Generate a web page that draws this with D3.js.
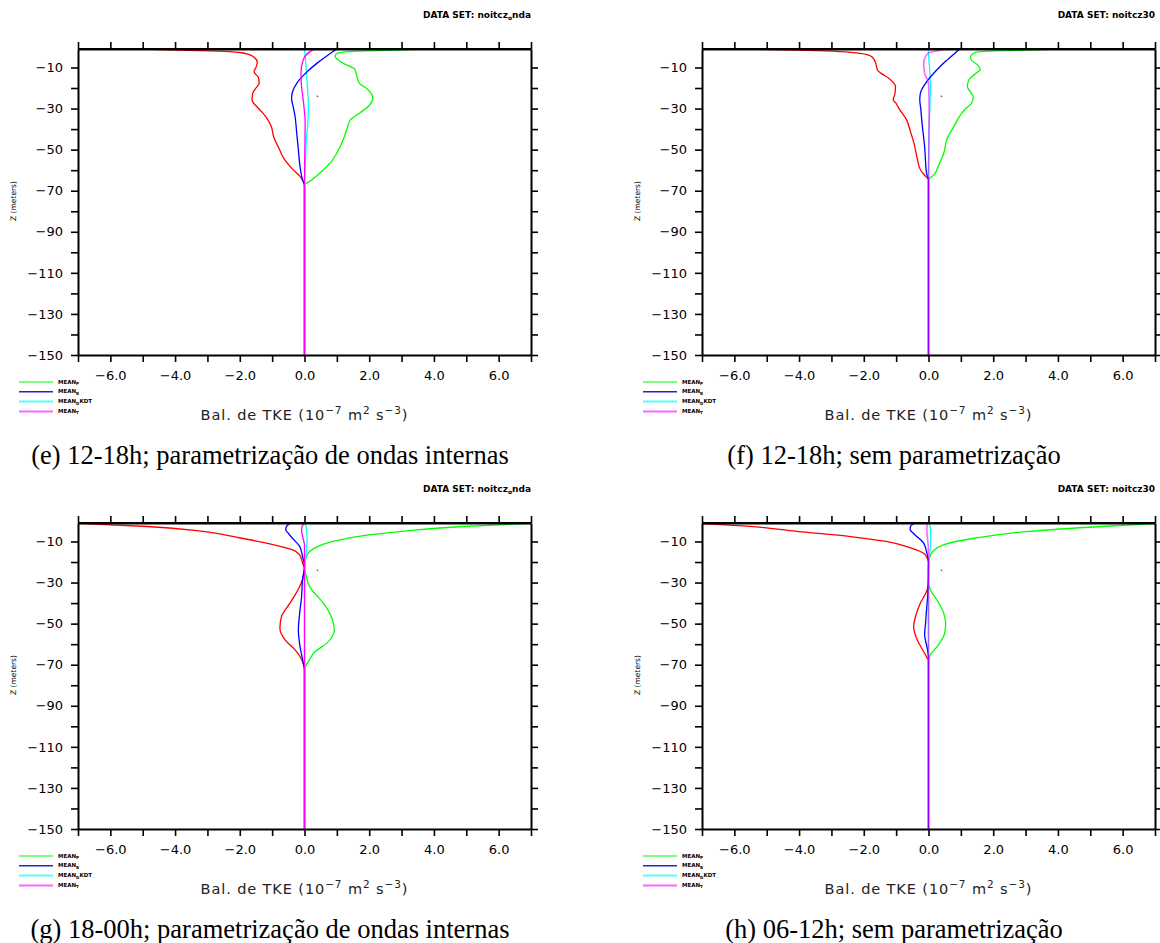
<!DOCTYPE html>
<html>
<head>
<meta charset="utf-8">
<script src="https://cdn.jsdelivr.net/npm/d3@7"></script>
<style>
  body { margin: 0; background: #fff; }
  svg { display: block; }
</style>
</head>
<body>
<svg id="chart" width="1160" height="943"></svg>
<script>
// Profiles of the TKE balance terms as [depth (m), value (1e-7 m2 s-3)].
// Below the mixed layer every term is zero down to -150 m.

// (e) 12-18h, internal wave parameterization
const eRed = [[-1,-4.9],[-1.4,-4.2],[-1.9,-2.9],[-2.7,-2.0],[-4.5,-1.6],[-7.5,-1.46],[-10,-1.5],[-12,-1.56],[-15,-1.42],[-17.5,-1.4],[-20,-1.5],[-22.5,-1.6],[-26,-1.62],[-29,-1.48],[-32,-1.3],[-35,-1.15],[-39,-1.02],[-44,-0.95],[-49,-0.8],[-54,-0.65],[-59,-0.4],[-63,-0.14],[-67.5,0],[-150,0]];
const eGreen = [[-1,3.6],[-1.4,3.0],[-1.9,2.0],[-2.5,1.2],[-3.5,0.97],[-4.8,0.95],[-6.5,1.05],[-8,1.2],[-11,1.56],[-14.4,1.62],[-17.7,1.7],[-20,1.9],[-22,2.03],[-24.5,2.11],[-27,2.07],[-28.5,2.0],[-32,1.72],[-35.5,1.42],[-40,1.31],[-45,1.2],[-51.7,1.0],[-56.6,0.79],[-60.7,0.53],[-64.8,0.22],[-67.5,0],[-150,0]];
const eBlue = [[-1,1.0],[-4,0.72],[-8,0.38],[-13,0.02],[-17.7,-0.24],[-21.8,-0.37],[-25,-0.4],[-29,-0.35],[-34,-0.29],[-42,-0.24],[-50,-0.19],[-58,-0.14],[-64.7,-0.06],[-67.5,0],[-150,0]];
const eCyan = [[-1,0.0],[-10,0.05],[-20,0.09],[-29,0.12],[-38,0.1],[-45,0.06],[-55,0.03],[-65,0],[-150,0]];
const eMagenta = [[-1,0.33],[-2.5,0.15],[-6.3,-0.04],[-12.9,-0.11],[-19.4,-0.09],[-25.9,-0.04],[-37,0.02],[-50,0.01],[-67.5,0],[-150,0]];

// (f) 12-18h, no parameterization
const fRed = [[-1,-5.5],[-1.4,-4.5],[-1.9,-3.2],[-2.8,-2.3],[-4.3,-1.8],[-6.4,-1.67],[-8,-1.63],[-11.5,-1.57],[-13,-1.45],[-15.2,-1.23],[-17.5,-1.08],[-19.3,-1.02],[-23,-1.04],[-25.7,-1.09],[-27.5,-1.0],[-29.8,-0.92],[-35.4,-0.68],[-41.1,-0.56],[-46.8,-0.45],[-54.1,-0.35],[-59.8,-0.25],[-63,-0.09],[-64.7,0],[-150,0]];
const fGreen = [[-1,4.0],[-1.4,3.3],[-1.9,2.1],[-2.6,1.45],[-3.5,1.36],[-4.5,1.3],[-6.3,1.32],[-8.5,1.5],[-11,1.6],[-13,1.45],[-16,1.25],[-19.3,1.2],[-22,1.3],[-24.2,1.38],[-27.4,1.33],[-30,1.15],[-33.1,0.99],[-38.8,0.78],[-44.5,0.58],[-51.8,0.47],[-57.5,0.32],[-62.4,0.16],[-64.7,0],[-150,0]];
const fBlue = [[-1,0.97],[-3.5,0.78],[-6.3,0.58],[-9.5,0.36],[-12.8,0.16],[-17.7,-0.09],[-22.5,-0.25],[-25.7,-0.27],[-30,-0.24],[-37,-0.2],[-48.5,-0.12],[-61.5,-0.06],[-64.7,0],[-150,0]];
const fCyan = [[-1,-0.01],[-10,0.03],[-19,0.06],[-30,0.04],[-45,0.01],[-64.7,0],[-150,0]];
const fMagenta = [[-1,0.53],[-1.8,0.3],[-2.9,0.01],[-5,-0.1],[-7.9,-0.15],[-12.9,-0.12],[-17.7,0],[-30,0.02],[-64.7,0],[-150,0]];

// (g) 18-00h, internal wave parameterization
const gRed = [[-1,-7.3],[-2.7,-4.85],[-5.1,-3.13],[-8.3,-1.98],[-11.6,-0.95],[-14,-0.38],[-16.5,-0.15],[-20.5,-0.06],[-23.5,0],[-28,-0.05],[-33.5,-0.2],[-37,-0.33],[-40,-0.45],[-46.5,-0.71],[-52.2,-0.76],[-57.9,-0.6],[-62.8,-0.29],[-66,-0.14],[-69,-0.05],[-72.5,0],[-150,0]];
const gGreen = [[-1,7.3],[-2.7,4.89],[-4.8,3.17],[-6.7,2.03],[-10,0.88],[-13.2,0.31],[-16.5,0.08],[-20,0.02],[-23,0],[-27,0.06],[-30,0.1],[-33.5,0.22],[-37,0.42],[-40,0.58],[-45,0.78],[-49.8,0.89],[-53,0.92],[-56.5,0.85],[-59.5,0.69],[-63.6,0.33],[-68.5,0.12],[-72.5,0],[-150,0]];
const gBlue = [[-1,-0.42],[-2.5,-0.55],[-4.3,-0.58],[-6,-0.5],[-8.3,-0.38],[-12.4,-0.15],[-17.3,-0.06],[-22,0],[-28.4,-0.06],[-36.8,-0.09],[-46.5,-0.16],[-53,-0.19],[-61,-0.14],[-69,-0.04],[-72.5,0],[-150,0]];
const gCyan = [[-1,0.0],[-3,0.05],[-8,0.08],[-14,0.06],[-20,0.02],[-25,0],[-150,0]];
const gMagenta = [[-1,0.0],[-2.5,-0.07],[-4.5,-0.09],[-8,-0.05],[-12,0],[-150,0]];

// (h) 06-12h, no parameterization
const hRed = [[-1,-7.3],[-2.4,-5.73],[-5.1,-4.07],[-7.6,-2.41],[-10,-1.31],[-13.2,-0.54],[-15.7,-0.15],[-18.1,-0.04],[-20,0],[-30,0],[-33.5,-0.04],[-40,-0.25],[-46.5,-0.4],[-51.4,-0.46],[-57.9,-0.35],[-63.6,-0.15],[-66.8,-0.04],[-68,0],[-150,0]];
const hGreen = [[-1,7.3],[-2.7,5.33],[-5.1,3.11],[-8.3,1.46],[-11.6,0.46],[-14.9,0.13],[-18,0.03],[-20,0],[-30,0],[-33.5,0.06],[-40,0.32],[-45,0.47],[-49.8,0.53],[-54.6,0.5],[-61.1,0.27],[-65.1,0.06],[-68,0],[-150,0]];
const hBlue = [[-1,-0.42],[-2.5,-0.55],[-4,-0.57],[-6.7,-0.42],[-10.8,-0.15],[-15.7,-0.05],[-20,0],[-35,-0.02],[-45,-0.07],[-49.8,-0.09],[-55,-0.12],[-62.8,-0.03],[-67,0],[-150,0]];
const hCyan = [[-1,0.02],[-5,0.07],[-12,0.06],[-18,0.02],[-22,0],[-150,0]];
const hMagenta = [[-1,-0.04],[-4,-0.05],[-10,-0.02],[-15,0],[-150,0]];

// stray marker near the surface, same in every panel
const stray = [[-24, 0.4]];

// axes
const X_DOMAIN = [-7, 7];
const Z_DOMAIN = [-150, -1];
const xTicks = d3.range(-7, 8, 1);
const zTicks = d3.range(-10, -151, -10);

// legend (red term has no entry in the original)
const legendNames = [['MEAN', 'P', ''], ['MEAN', 'B', ''], ['MEAN', 'D', 'KDT'], ['MEAN', 'T', '']];

const captions = [
  '(e) 12-18h; parametrização de ondas internas',
  '(f) 12-18h; sem parametrização',
  '(g) 18-00h; parametrização de ondas internas',
  '(h) 06-12h; sem parametrização',
];

// layout
const PW = 453, PH = 306;
const panels = [
  { ox: 78,  oy: 49,  curves: { red: eRed, green: eGreen, blue: eBlue, cyan: eCyan, magenta: eMagenta }, dataset: ['noitcz', 'o', 'nda'], caption: captions[0], mix: false },
  { ox: 702, oy: 49,  curves: { red: fRed, green: fGreen, blue: fBlue, cyan: fCyan, magenta: fMagenta }, dataset: ['noitcz30', '', ''], caption: captions[1], mix: true },
  { ox: 78,  oy: 523, curves: { red: gRed, green: gGreen, blue: gBlue, cyan: gCyan, magenta: gMagenta }, dataset: ['noitcz', 'o', 'nda'], caption: captions[2], mix: false },
  { ox: 702, oy: 523, curves: { red: hRed, green: hGreen, blue: hBlue, cyan: hCyan, magenta: hMagenta }, dataset: ['noitcz30', '', ''], caption: captions[3], mix: true },
];
// draw order: cyan under blue so the zero line mixes blue + magenta where they overlap
const drawOrder = ['red', 'green', 'cyan', 'blue', 'magenta'];
const curveColors = { red: '#ff0000', green: '#00ff00', blue: '#0000ff', cyan: '#00ffff', magenta: '#ff00ff' };
const legendColors = ['#55ff55', '#2323d8', '#55ffff', '#ff66ff'];

const svg = d3.select('#chart');
const FONT = '"DejaVu Sans", sans-serif';

panels.forEach((p, i) => {
  const x = d3.scaleLinear().domain(X_DOMAIN).range([0, PW]);
  const y = d3.scaleLinear().domain(Z_DOMAIN).range([PH, 0]);
  const g = svg.append('g').attr('transform', `translate(${p.ox},${p.oy})`);

  svg.append('clipPath').attr('id', `clip${i}`)
    .append('rect').attr('width', PW).attr('height', PH);

  const line = d3.line()
    .x((d) => x(d[1]))
    .y((d) => y(d[0]))
    .curve(d3.curveMonotoneY);

  const plot = g.append('g').attr('clip-path', `url(#clip${i})`);
  drawOrder.forEach((key) => {
    const mixed = p.mix && key === 'magenta';
    plot.append('path')
      .datum(p.curves[key])
      .attr('d', line)
      .attr('fill', 'none')
      .attr('stroke', curveColors[key])
      .attr('stroke-width', mixed ? 1.6 : 1.3)
      .attr('stroke-opacity', mixed ? 0.6 : 1);
  });
  plot.selectAll('.stray')
    .data(stray)
    .enter()
    .append('circle')
    .attr('cx', (d) => x(d[1]))
    .attr('cy', (d) => y(d[0]))
    .attr('r', 0.8)
    .attr('fill', '#444');

  // frame + axes
  const styleAxis = (sel) => {
    sel.selectAll('.domain').attr('stroke', '#000').attr('stroke-width', 2);
    sel.selectAll('.tick line').attr('stroke', '#000').attr('stroke-width', 1.6);
    sel.selectAll('.tick text')
      .attr('font-family', FONT)
      .attr('font-size', 13)
      .attr('fill', '#000');
  };

  g.append('g')
    .call(d3.axisTop(x).tickValues(xTicks).tickSize(7).tickSizeOuter(0).tickFormat(''))
    .call(styleAxis);
  g.append('g')
    .attr('transform', `translate(0,${PH})`)
    .call(d3.axisBottom(x).tickValues(xTicks).tickSize(7).tickSizeOuter(0).tickPadding(9)
      .tickFormat((d) => (d % 2 === 0 ? d3.format('.1f')(d) : '')))
    .call(styleAxis);
  g.append('g')
    .call(d3.axisLeft(y).tickValues(zTicks).tickSize(7).tickSizeOuter(0).tickPadding(8)
      .tickFormat((d) => (d % 20 !== 0 ? d3.format('d')(d) : '')))
    .call(styleAxis);
  g.append('g')
    .attr('transform', `translate(${PW},0)`)
    .call(d3.axisRight(y).tickValues(zTicks).tickSize(7).tickSizeOuter(0).tickFormat(''))
    .call(styleAxis);
  // top border of frame
  g.append('line')
    .attr('x1', 0).attr('x2', PW).attr('y1', 0).attr('y2', 0)
    .attr('stroke', '#000').attr('stroke-width', 2);

  // DATA SET label
  const ds = svg.append('text')
    .attr('x', p.ox + PW)
    .attr('y', p.oy - 31)
    .attr('text-anchor', 'end')
    .attr('font-family', FONT)
    .attr('font-weight', 'bold')
    .attr('font-size', 9)
    .attr('fill', '#000');
  ds.append('tspan').text('DATA SET: ' + p.dataset[0]);
  if (p.dataset[1]) {
    ds.append('tspan').attr('dy', 2).attr('font-size', 6).text(p.dataset[1]);
    ds.append('tspan').attr('dy', -2).text(p.dataset[2]);
  }

  // x title
  const xt = svg.append('text')
    .attr('x', p.ox + PW / 2)
    .attr('y', p.oy + PH + 65)
    .attr('text-anchor', 'middle')
    .attr('font-family', FONT)
    .attr('font-size', 14.5)
    .attr('letter-spacing', 0.9)
    .attr('fill', '#222');
  xt.append('tspan').text('Bal. de TKE (10');
  xt.append('tspan').attr('dy', -6).attr('font-size', 10.5).text('−7');
  xt.append('tspan').attr('dy', 6).text(' m');
  xt.append('tspan').attr('dy', -6).attr('font-size', 10.5).text('2');
  xt.append('tspan').attr('dy', 6).text(' s');
  xt.append('tspan').attr('dy', -6).attr('font-size', 10.5).text('−3');
  xt.append('tspan').attr('dy', 6).text(')');

  // y title
  svg.append('text')
    .attr('transform', `translate(${p.ox - 62},${p.oy + 152}) rotate(-90)`)
    .attr('text-anchor', 'middle')
    .attr('font-family', FONT)
    .attr('font-size', 7.5)
    .attr('fill', '#000')
    .text('Z (meters)');

  // legend
  const lg = svg.append('g').attr('transform', `translate(${p.ox - 59},${p.oy + PH + 27})`);
  legendNames.forEach((n, k) => {
    const row = lg.append('g').attr('transform', `translate(0,${k * 9.8})`);
    row.append('line')
      .attr('x1', 0).attr('x2', 34)
      .attr('stroke', legendColors[k])
      .attr('stroke-width', k >= 2 ? 2 : 1.4);
    const t = row.append('text')
      .attr('x', 39).attr('y', 1.5)
      .attr('font-family', FONT)
      .attr('font-weight', 'bold')
      .attr('font-size', 5.5)
      .attr('fill', '#000');
    t.append('tspan').text(n[0]);
    t.append('tspan').attr('dy', 1.5).attr('font-size', 4).text(n[1]);
    if (n[2]) t.append('tspan').attr('dy', -1.5).text(n[2]);
  });

  // caption
  svg.append('text')
    .attr('x', p.ox + 192)
    .attr('y', p.oy + PH + 109)
    .attr('text-anchor', 'middle')
    .attr('font-family', '"Liberation Serif", "Times New Roman", serif')
    .attr('font-size', 26.5)
    .attr('fill', '#000')
    .text(p.caption);
});
</script>
</body>
</html>
